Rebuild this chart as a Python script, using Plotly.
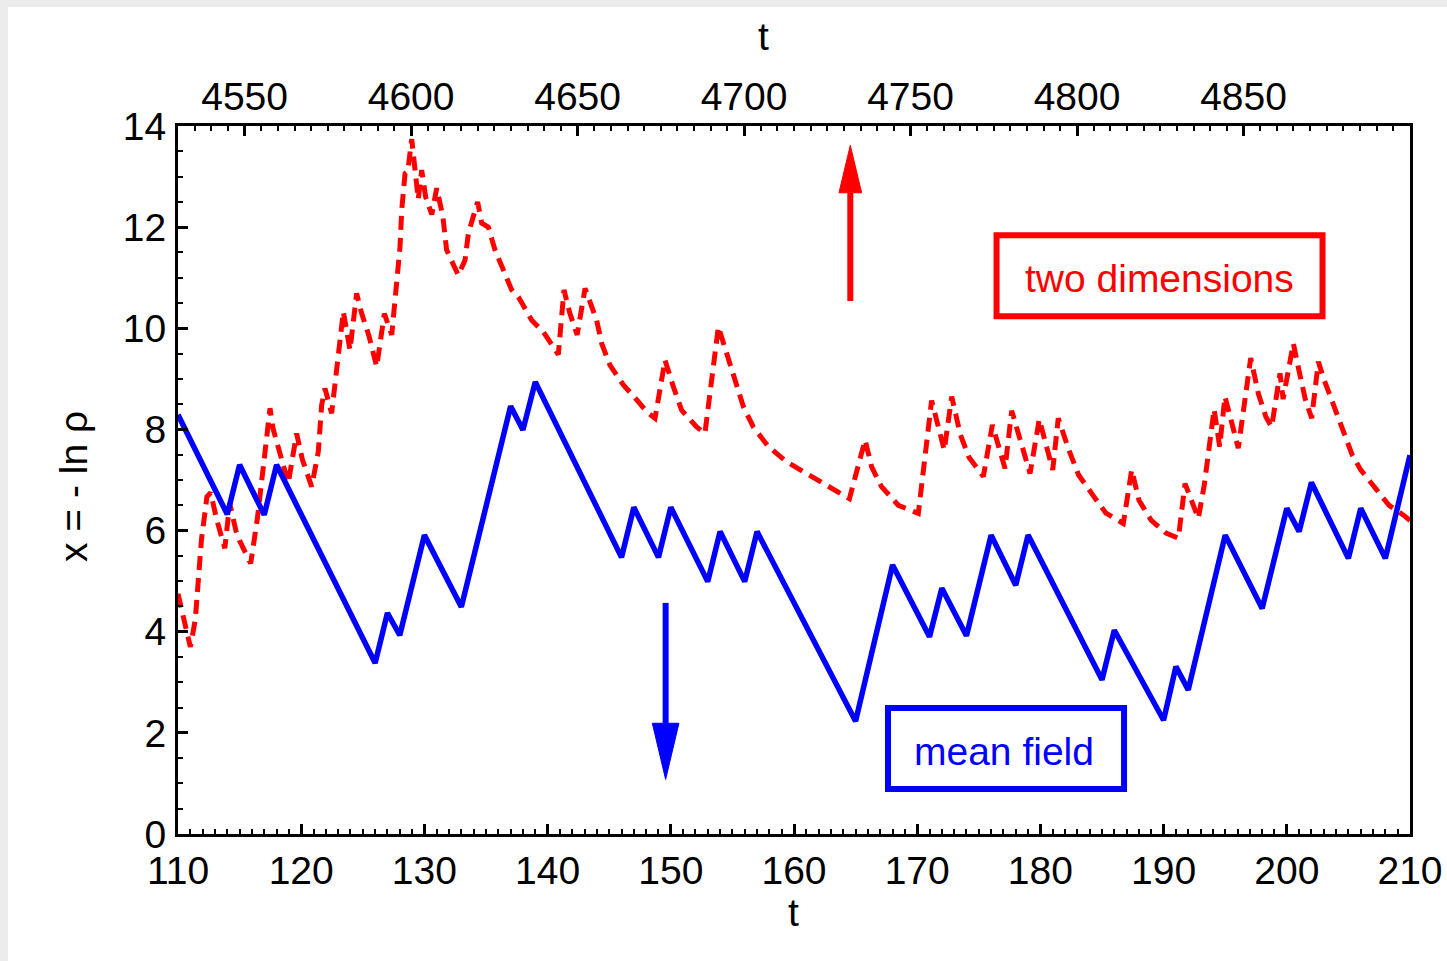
import plotly.graph_objects as go

# Mean-field trajectory: vertices of the piecewise-linear walk
mean_field_t = [110, 114, 115, 117, 118, 126, 127, 128, 130, 133, 137, 138, 139,
                146, 147, 149, 150, 153, 154, 156, 157, 165, 168, 171, 172, 174,
                176, 178, 179, 185, 186, 190, 191, 192, 195, 198, 200, 201, 202,
                205, 206, 208, 210]
mean_field_x = [8.29, 6.32, 7.30, 6.31, 7.30, 3.38, 4.37, 3.93, 5.91, 4.49, 8.46, 7.99, 8.94,
                5.47, 6.46, 5.47, 6.46, 4.99, 5.98, 4.99, 5.98, 2.23, 5.32, 3.90, 4.86, 3.92,
                5.91, 4.92, 5.91, 3.05, 4.03, 2.25, 3.31, 2.85, 5.91, 4.46, 6.44, 5.98, 6.95,
                5.45, 6.44, 5.45, 7.49]

# Two-dimensional trajectory
two_dim_t = [110.0, 110.5, 111.0, 111.4, 111.9, 112.35, 112.65, 113.15, 113.8, 114.2,
             114.7, 115.0, 115.9, 116.45, 116.93, 117.33, 117.47, 117.7, 118.2, 118.95,
             119.63, 120.1, 120.85, 121.39, 121.66, 121.93, 122.47, 123.07, 123.42, 123.96,
             124.5, 124.9, 125.5, 126.13, 126.75, 127.35, 127.61, 128.02, 128.16, 128.43,
             128.65, 128.97, 129.5, 129.78, 130.1, 130.6, 131.0, 131.5, 131.8, 132.48,
             132.75, 133.3, 133.57, 133.97, 134.32, 134.65, 135.19, 135.73, 137.08, 137.63,
             138.71, 139.65, 140.87, 141.33, 141.8, 142.4, 143.04, 143.98, 144.39, 145.06,
             146.15, 147.36, 148.04, 148.72, 149.53, 150.2, 150.88, 152.1, 152.77, 153.86,
             154.67, 155.89, 156.7, 157.92, 159.4, 161.03, 162.65, 164.5, 165.77, 166.3,
             167.1, 168.47, 170.09, 170.35, 170.77, 171.17, 172.2, 172.8, 173.5, 174.2,
             175.37, 176.1, 177.13, 177.67, 179.16, 179.91, 181.0, 181.45, 182.3, 183.1,
             184.2, 185.3, 186.73, 187.41, 188.0, 189.0, 190.2, 191.2, 191.74, 192.82,
             193.3, 193.7, 194.1, 194.55, 194.98, 196.06, 197.07, 197.7, 198.3, 198.77,
             199.45, 199.7, 200.53, 201.0, 201.5, 202.02, 202.56, 203.0, 203.6, 204.4,
             205.3, 206.0, 207.1, 208.3, 209.5, 210.0]
two_dim_x = [4.75, 4.20, 3.70, 4.23, 5.81, 6.67, 6.75, 6.21, 5.65, 6.54,
             6.00, 5.80, 5.35, 6.25, 7.33, 8.19, 8.42, 8.03, 7.56, 6.94,
             7.92, 7.40, 6.87, 7.56, 8.48, 8.81, 8.32, 9.67, 10.33, 9.57,
             10.69, 10.30, 9.85, 9.24, 10.29, 9.87, 10.62, 11.61, 12.34, 13.06,
             13.10, 13.74, 12.55, 13.13, 12.60, 12.25, 12.77, 12.21, 11.55, 11.15,
             11.05, 11.35, 11.88, 12.21, 12.50, 12.08, 12.00, 11.55, 10.76, 10.62,
             10.16, 9.93, 9.48, 10.76, 10.30, 9.87, 10.79, 10.16, 9.70, 9.27,
             8.88, 8.55, 8.35, 8.22, 9.37, 8.85, 8.38, 8.05, 7.92, 10.03,
             9.37, 8.45, 8.05, 7.66, 7.36, 7.13, 6.90, 6.63, 7.79, 7.26,
             6.87, 6.50, 6.34, 6.90, 7.60, 8.57, 7.59, 8.65, 7.90, 7.45,
             7.07, 8.09, 7.23, 8.37, 7.13, 8.20, 7.20, 8.22, 7.60, 7.10,
             6.72, 6.35, 6.14, 7.20, 6.60, 6.20, 5.95, 5.85, 6.93, 6.24,
             6.90, 7.60, 8.40, 7.66, 8.65, 7.63, 9.41, 8.70, 8.25, 8.05,
             9.11, 8.60, 9.70, 9.15, 8.60, 8.22, 9.34, 9.00, 8.60, 8.05,
             7.50, 7.20, 6.85, 6.50, 6.30, 6.20]

bottom_ticks = [110, 120, 130, 140, 150, 160, 170, 180, 190, 200, 210]
top_ticks = [4550, 4600, 4650, 4700, 4750, 4800, 4850]
y_ticks = [0, 2, 4, 6, 8, 10, 12, 14]

FONT = "Liberation Sans, Arial, sans-serif"
FS = 39
RED = "#ff0000"
BLUE = "#0000ff"

fig = go.Figure()

fig.add_trace(go.Scatter(
    x=two_dim_t, y=two_dim_x, mode="lines",
    line=dict(color=RED, width=5, dash="14px,8px"),
    hoverinfo="skip", showlegend=False))
fig.add_trace(go.Scatter(
    x=mean_field_t, y=mean_field_x, mode="lines",
    line=dict(color=BLUE, width=5.5),
    hoverinfo="skip", showlegend=False))
# empty trace that carries the secondary (top) time axis
fig.add_trace(go.Scatter(
    x=top_ticks, y=[None] * len(top_ticks), xaxis="x2", yaxis="y",
    mode="lines", hoverinfo="skip", showlegend=False))

shapes = []

# page background with thin grey border on the left and top
shapes.append(dict(type="rect", xref="paper", yref="paper",
                   x0=(8 - 178) / 1232, x1=1.05, y0=-0.2, y1=(834 - 7) / 708,
                   fillcolor="white", line=dict(width=0), layer="below"))


def arrow(x, y_tail, y_base, y_tip, half_w, color):
    shapes.append(dict(type="line", xref="x", yref="y",
                       x0=x, x1=x, y0=y_tail, y1=y_base,
                       line=dict(color=color, width=6)))
    shapes.append(dict(type="path", xref="x", yref="y",
                       path=f"M {x - half_w},{y_base} L {x},{y_tip} L {x + half_w},{y_base} Z",
                       fillcolor=color, line=dict(color=color, width=1)))


arrow(164.57, 10.54, 12.68, 13.62, 0.92, RED)
arrow(149.58, 4.57, 2.19, 1.08, 1.08, BLUE)

# label frames
shapes.append(dict(type="rect", xref="x", yref="y", x0=176.44, x1=202.90, y0=10.24, y1=11.84,
                   line=dict(color=RED, width=6)))
shapes.append(dict(type="rect", xref="x", yref="y", x0=167.63, x1=186.79, y0=0.89, y1=2.49,
                   line=dict(color=BLUE, width=6)))

annotations = [
    dict(text="two dimensions", x=189.63, y=10.99, xref="x", yref="y", showarrow=False,
         font=dict(family=FONT, size=FS, color=RED), xanchor="center", yanchor="middle"),
    dict(text="mean field", x=177.05, y=1.64, xref="x", yref="y", showarrow=False,
         font=dict(family=FONT, size=FS, color=BLUE), xanchor="center", yanchor="middle"),
    dict(text="t", x=(763.5 - 178) / 1232, y=(834 - 37) / 708, xref="paper", yref="paper",
         showarrow=False, font=dict(family=FONT, size=FS, color="black"),
         xanchor="center", yanchor="middle"),
    dict(text="t", x=(793.5 - 178) / 1232, y=(834 - 912) / 708, xref="paper", yref="paper",
         showarrow=False, font=dict(family=FONT, size=FS, color="black"),
         xanchor="center", yanchor="middle"),
    dict(text="x = - ln ρ", x=(73 - 178) / 1232, y=(834 - 487) / 708, xref="paper", yref="paper",
         showarrow=False, textangle=-90, font=dict(family=FONT, size=FS, color="black"),
         xanchor="center", yanchor="middle"),
]

tickfont = dict(family=FONT, size=FS, color="black")

fig.update_layout(
    width=1447, height=961, autosize=False,
    margin=dict(l=178, r=37, t=126, b=127, pad=0),
    paper_bgcolor="#ececec", plot_bgcolor="rgba(0,0,0,0)",
    showlegend=False,
    shapes=shapes, annotations=annotations,
    xaxis=dict(range=[110, 210], tickvals=bottom_ticks, ticks="inside", ticklen=10,
               tickwidth=2.5, tickcolor="black", showline=True, linewidth=3,
               linecolor="black", mirror=True, showgrid=False, zeroline=False,
               tickfont=tickfont, ticklabelstandoff=0, automargin=False,
               minor=dict(dtick=1, tick0=110, ticks="inside", ticklen=5, tickwidth=2,
                          tickcolor="black", showgrid=False)),
    xaxis2=dict(range=[4530, 4900], tickvals=top_ticks, overlaying="x", side="top",
                anchor="y", ticks="inside", ticklen=10, tickwidth=2.5, tickcolor="black",
                showline=False, showgrid=False, zeroline=False, tickfont=tickfont,
                ticklabelstandoff=7, automargin=False,
                minor=dict(dtick=5, tick0=4530, ticks="inside", ticklen=5, tickwidth=2,
                           tickcolor="black", showgrid=False)),
    yaxis=dict(range=[0, 14], tickvals=y_ticks, ticks="inside", ticklen=10, tickwidth=2.5,
               tickcolor="black", showline=True, linewidth=3, linecolor="black",
               mirror=True, showgrid=False, zeroline=False, tickfont=tickfont,
               ticklabelstandoff=1, automargin=False,
               minor=dict(dtick=0.5, tick0=0, ticks="inside", ticklen=5, tickwidth=2,
                          tickcolor="black", showgrid=False)),
)

fig.write_html("out.html")
